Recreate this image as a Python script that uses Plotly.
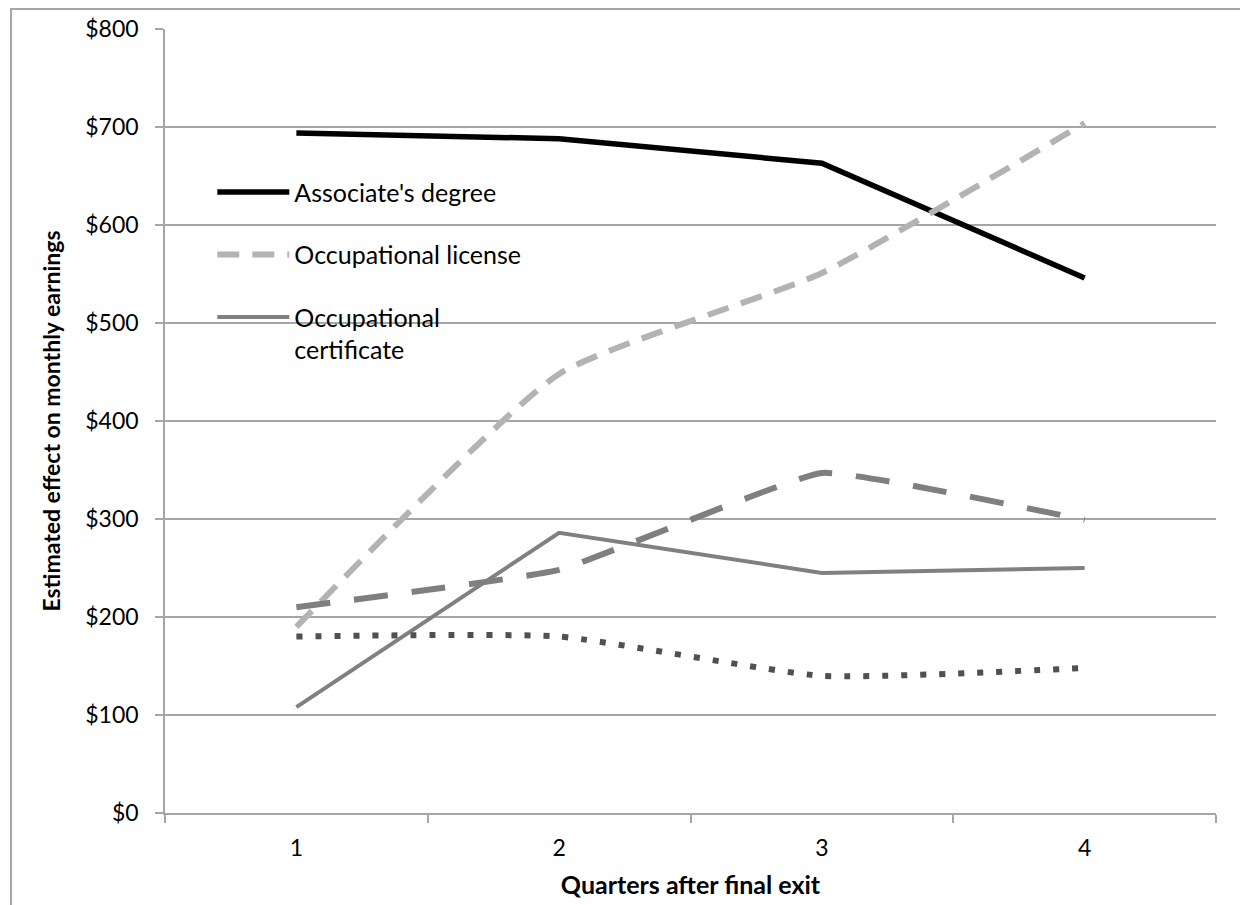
import plotly.graph_objects as go

quarters = ["1", "2", "3", "4"]
tick_labels = ["$0", "$100", "$200", "$300", "$400", "$500", "$600", "$700", "$800"]
tick_values = [0, 100, 200, 300, 400, 500, 600, 700, 800]

associate = [694, 688, 663, 546]
license_ = [190, 448, 551, 704]
certificate = [108, 286, 245, 250]
series4 = [210, 248, 347, 299]
series5 = [180, 180, 140, 148]

FONT = "Lato"

fig = go.Figure()

fig.add_trace(go.Scatter(x=quarters, y=associate, mode="lines", name="Associate's degree",
                         line=dict(color="#000000", width=5.5), legendgroup="a"))
fig.add_trace(go.Scatter(x=quarters, y=license_, mode="lines", name="Occupational license",
                         line=dict(color="#b3b3b3", width=6, dash="22px,13px", shape="spline", smoothing=0.5),
                         legendgroup="b"))
fig.add_trace(go.Scatter(x=quarters, y=certificate, mode="lines", name="Occupational<br>certificate",
                         line=dict(color="#808080", width=4), legendgroup="c"))
fig.add_trace(go.Scatter(x=quarters, y=series4, mode="lines", name="Series 4", showlegend=False,
                         line=dict(color="#7f7f7f", width=6, dash="34px,24px", shape="spline", smoothing=0.3)))
fig.add_trace(go.Scatter(x=quarters, y=series5, mode="lines", name="Series 5", showlegend=False,
                         line=dict(color="#505050", width=6, dash="6px,13px", shape="spline", smoothing=0.5)))

# outer chart frame
fig.add_shape(type="rect", xref="paper", yref="paper", x0=-0.1465, y0=-0.3, x1=1.2, y1=1.0255,
              line=dict(color="#a6a6a6", width=2), fillcolor="rgba(0,0,0,0)", layer="below")

fig.update_layout(
    width=1240, height=897,
    margin=dict(l=157, r=32, t=21, b=92, autoexpand=False),
    paper_bgcolor="white", plot_bgcolor="white",
    font=dict(family=FONT, size=23, color="#000000"),
    showlegend=True,
    legend=dict(x=0.045, y=0.821, xanchor="left", yanchor="top", bgcolor="rgba(0,0,0,0)",
                tracegroupgap=27, traceorder="grouped", valign="top", itemwidth=72,
                font=dict(family=FONT, size=25)),
    xaxis=dict(type="category", tickson="boundaries", ticks="outside", ticklen=8,
               tickcolor="#a6a6a6", tickwidth=1.5, automargin=False,
               showline=True, linecolor="#a6a6a6", linewidth=1.5, showgrid=False,
               range=[-0.5, 3.5], tickfont=dict(size=23), ticklabelstandoff=14,
               title=dict(text="<b>Quarters after final exit</b>", font=dict(size=25), standoff=16)),
    yaxis=dict(range=[0, 800], tickvals=tick_values, ticktext=tick_labels, ticks="outside",
               ticklen=8, tickcolor="#a6a6a6", tickwidth=1.5, automargin=False,
               showline=True, linecolor="#a6a6a6", linewidth=1.5,
               showgrid=True, gridcolor="#a6a6a6", gridwidth=1.5, zeroline=False,
               tickfont=dict(size=23), ticklabelstandoff=12,
               title=dict(text="<b>Estimated effect on monthly earnings</b>", font=dict(size=23), standoff=18)),
)

fig.write_html("out.html")
